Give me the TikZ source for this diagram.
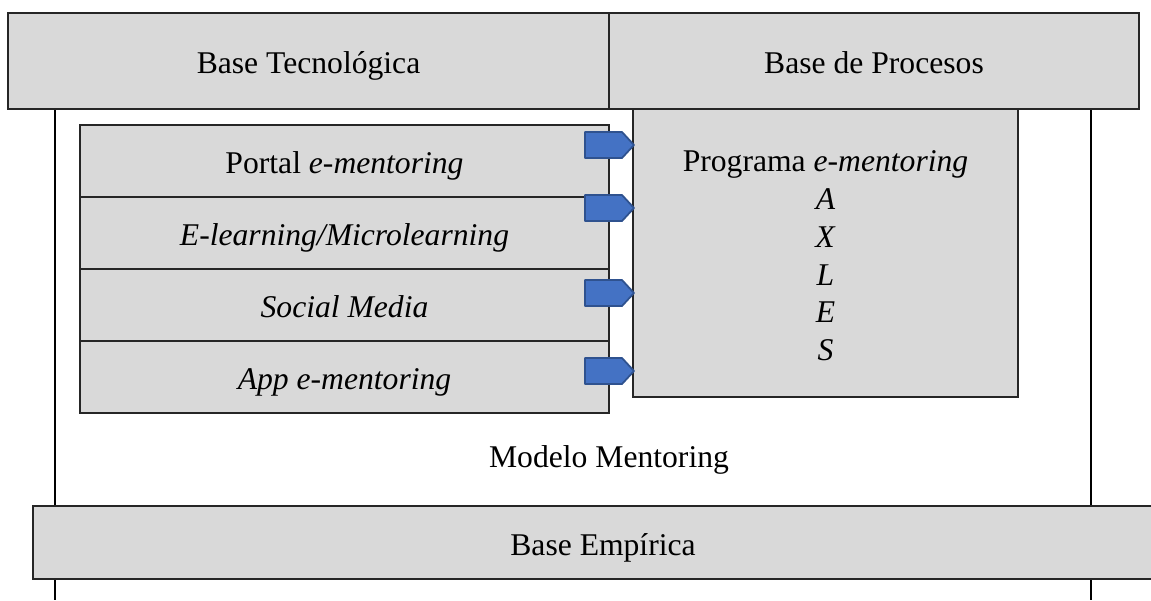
\documentclass[tikz,border=0pt]{standalone}
\usepackage{fontspec}
\setmainfont{Liberation Serif}
\definecolor{boxgray}{HTML}{D9D9D9}
\definecolor{arrowblue}{HTML}{4472C4}
\definecolor{arrowedge}{HTML}{2F528F}
\tikzset{
    box/.style={draw=black!85, line width=0.9pt, fill=boxgray, inner sep=0pt,
        font=\fontsize{18}{21.5}\selectfont},
    line/.style={box, text height=14.5pt, text depth=0pt},
    frame/.style={line width=1.6pt},
    tag/.style={fill=arrowblue, draw=arrowedge, line width=1pt, line join=round}
}
\begin{document}
\begin{tikzpicture}[x=0.02cm, y=-0.02cm]
    \clip (0,0) rectangle (1151,600);
    % Frame of the model
    \coordinate (fl) at (55,109);
    \coordinate (fr) at (1091,109);
    \draw [frame] (fl) -- (55,600);
    \draw [frame] (fr) -- (1091,600);
    % Top bases
    \node [line, minimum width=12.02cm, minimum height=1.92cm] (tec) at (308.5,61) {Base Tecnológica};
    \node [line, minimum width=10.6cm, minimum height=1.92cm] (proc) at (874,61) {Base de Procesos};
    % Technology stack
    \node [line, minimum width=10.58cm, minimum height=1.44cm] (portal) at (344.5,161) {Portal \textit{e-mentoring}};
    \node [line, minimum width=10.58cm, minimum height=1.44cm] (elearn) at (344.5,233) {\textit{E-learning/Microlearning}};
    \node [line, minimum width=10.58cm, minimum height=1.44cm] (social) at (344.5,305) {\textit{Social Media}};
    \node [line, minimum width=10.58cm, minimum height=1.44cm] (app) at (344.5,377) {\textit{App e-mentoring}};
    % Process program
    \node [box, minimum width=7.7cm, minimum height=5.76cm] (prog) at (825.5,253) {};
    \node [font=\fontsize{18}{21.5}\selectfont, align=center] (progtext) at (825.5,256)
        {Programa \textit{e-mentoring}\\ \textit{A}\\ \textit{X}\\ \textit{L}\\ \textit{E}\\ \textit{S}};
    % Links to the program
    \foreach \y in {145,208,293,371}
        \draw [tag] (585,\y-13) -- (622,\y-13) -- ([xshift=1pt]prog.west |- 0,\y) -- (622,\y+13) -- (585,\y+13) -- cycle;
    % Model label
    \node [font=\fontsize{18}{21.5}\selectfont] (model) at (609,460) {Modelo Mentoring};
    % Empirical base
    \node [line, minimum width=22.8cm, minimum height=1.46cm] (emp) at (603,542.5) {Base Empírica};
\end{tikzpicture}
\end{document}
